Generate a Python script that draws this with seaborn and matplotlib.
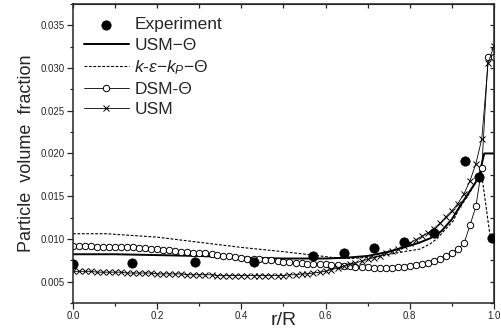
#Imports
import matplotlib
matplotlib.use("Agg")
import matplotlib.pyplot as plt
import seaborn as sns
from matplotlib.ticker import MultipleLocator

#Data
# experiment
r_exp = [0.0, 0.14, 0.29, 0.43, 0.571, 0.643, 0.714, 0.786, 0.857, 0.93, 0.965, 0.995]
c_exp = [0.0071, 0.0072, 0.0073, 0.0073, 0.0080, 0.0084, 0.0089, 0.0096, 0.0107, 0.0191, 0.0172, 0.0101]

# USM-Theta (solid)
r_usm_t = [0.0, 0.1, 0.2, 0.3, 0.4, 0.5, 0.6, 0.65, 0.7, 0.75, 0.8, 0.825, 0.85,
           0.875, 0.9, 0.92, 0.94, 0.955, 0.965, 0.972, 0.977, 0.99, 1.0]
c_usm_t = [0.0082, 0.0082, 0.0081, 0.0080, 0.0078, 0.0077, 0.0077, 0.0078, 0.0080,
           0.0085, 0.0092, 0.0096, 0.0101, 0.0109, 0.0123, 0.0139, 0.0154, 0.0165,
           0.0174, 0.0190, 0.0200, 0.0200, 0.0200]

# k-eps-kp-Theta (dashed)
r_keps = [0.0, 0.08, 0.2, 0.3, 0.4, 0.5, 0.57, 0.62, 0.66, 0.72, 0.785, 0.824,
          0.848, 0.864, 0.903, 0.919, 0.94, 0.955, 0.97, 0.99, 1.0]
c_keps = [0.0106, 0.0106, 0.0102, 0.0096, 0.0090, 0.0085, 0.0081, 0.0078, 0.0077,
          0.0079, 0.0085, 0.0088, 0.0094, 0.0100, 0.0121, 0.0137, 0.0152, 0.0165,
          0.0178, 0.0106, 0.0101]

# grid of the two marked model curves
r_grid = [0.0, 0.014, 0.029, 0.043, 0.057, 0.071, 0.086, 0.1, 0.114, 0.129,
          0.143, 0.157, 0.171, 0.186, 0.2, 0.214, 0.229, 0.243, 0.257, 0.271,
          0.286, 0.3, 0.314, 0.329, 0.343, 0.357, 0.371, 0.386, 0.4, 0.414,
          0.429, 0.443, 0.457, 0.471, 0.486, 0.5, 0.514, 0.529, 0.543, 0.557,
          0.571, 0.586, 0.6, 0.614, 0.629, 0.643, 0.657, 0.671, 0.686, 0.7,
          0.714, 0.729, 0.743, 0.757, 0.771, 0.786, 0.8, 0.814, 0.829, 0.843,
          0.857, 0.871, 0.886, 0.9, 0.914, 0.929, 0.943, 0.957, 0.971, 0.986, 1.0]

# DSM-Theta (open circles)
c_dsm = [0.0092, 0.0092, 0.0092, 0.0092, 0.0091, 0.0091, 0.0091, 0.0091, 0.0090, 0.0090,
         0.0090, 0.0089, 0.0089, 0.0088, 0.0088, 0.0087, 0.0087, 0.0086, 0.0085, 0.0085,
         0.0084, 0.0083, 0.0083, 0.0082, 0.0081, 0.0080, 0.0080, 0.0079, 0.0078, 0.0077,
         0.0077, 0.0076, 0.0075, 0.0075, 0.0074, 0.0073, 0.0073, 0.0072, 0.0072, 0.0071,
         0.0071, 0.0070, 0.0070, 0.0069, 0.0069, 0.0068, 0.0068, 0.0067, 0.0067, 0.0067,
         0.0066, 0.0066, 0.0066, 0.0066, 0.0067, 0.0067, 0.0068, 0.0069, 0.0071, 0.0072,
         0.0074, 0.0077, 0.0080, 0.0084, 0.0088, 0.0095, 0.0116, 0.0138, 0.0183, 0.0313, 0.0313]

# USM (crosses)
c_usm = [0.0062, 0.0062, 0.0062, 0.0062, 0.0061, 0.0061, 0.0061, 0.0061, 0.0061, 0.0060,
         0.0060, 0.0060, 0.0060, 0.0060, 0.0059, 0.0059, 0.0059, 0.0059, 0.0059, 0.0058,
         0.0058, 0.0058, 0.0058, 0.0058, 0.0057, 0.0057, 0.0057, 0.0057, 0.0057, 0.0057,
         0.0057, 0.0057, 0.0057, 0.0057, 0.0057, 0.0057, 0.0058, 0.0058, 0.0059, 0.0059,
         0.0060, 0.0061, 0.0062, 0.0064, 0.0066, 0.0068, 0.0070, 0.0072, 0.0074, 0.0076,
         0.0078, 0.0080, 0.0083, 0.0086, 0.0088, 0.0092, 0.0095, 0.0099, 0.0103, 0.0107,
         0.0112, 0.0118, 0.0126, 0.0133, 0.0141, 0.0153, 0.0168, 0.0188, 0.0217, 0.0306, 0.0326]

#Style
sns.set_style("ticks")
plt.rcParams["font.family"] = ["Liberation Sans", "DejaVu Sans"]
plt.rcParams["mathtext.fontset"] = "custom"
plt.rcParams["mathtext.rm"] = "Liberation Sans"
plt.rcParams["mathtext.it"] = "Liberation Sans:italic"

fig = plt.figure(figsize=(5.01, 3.30), dpi=100)
ax = fig.add_axes([0.1457, 0.082, 0.8403, 0.906])

#Plot
sns.lineplot(x=r_usm_t, y=c_usm_t, ax=ax, color="black", linewidth=1.4,
             label="USM\u2212\u0398")
sns.lineplot(x=r_keps, y=c_keps, ax=ax, color="black", linewidth=0.8,
             linestyle=(0, (2.5, 1.5)),
             label=r"$k$-$\varepsilon$$-$$k_P$$-$" + "\u0398")
sns.lineplot(x=r_grid, y=c_dsm, ax=ax, color="black", linewidth=0.6,
             marker="o", markersize=4.6, markerfacecolor="white",
             markeredgecolor="black", markeredgewidth=0.7, label="DSM-\u0398")
sns.lineplot(x=r_grid, y=c_usm, ax=ax, color="black", linewidth=0.6,
             marker="x", markersize=4.4, markeredgecolor="black",
             markeredgewidth=0.7, label="USM")
sns.scatterplot(x=r_exp, y=c_exp, ax=ax, color="black", s=45,
                edgecolor="black", label="Experiment", zorder=5)

#Axes
ax.set_xlim(0, 1.0)
ax.set_ylim(0.0025, 0.0375)
ax.xaxis.set_major_locator(MultipleLocator(0.2))
ax.xaxis.set_minor_locator(MultipleLocator(0.1))
ax.yaxis.set_major_locator(MultipleLocator(0.005))
ax.yaxis.set_minor_locator(MultipleLocator(0.0025))
ax.xaxis.set_major_formatter(plt.FormatStrFormatter("%.1f"))
ax.yaxis.set_major_formatter(plt.FormatStrFormatter("%.3f"))
for s in ax.spines.values():
    s.set_visible(True)
    s.set_linewidth(1.1)
ax.tick_params(axis="both", which="both", direction="out", labelsize=7,
               width=0.9, top=False, right=False)
ax.tick_params(which="major", length=4, pad=2)
ax.tick_params(which="minor", length=2.5)
# mirrored inward ticks on top/right
sec_x = ax.secondary_xaxis("top")
sec_x.xaxis.set_major_locator(MultipleLocator(0.1))
sec_x.tick_params(direction="in", length=3, width=0.9, labeltop=False)
sec_y = ax.secondary_yaxis("right")
sec_y.yaxis.set_major_locator(MultipleLocator(0.0025))
sec_y.tick_params(direction="in", length=3, width=0.9, labelright=False)

ax.set_ylabel("Particle  volume  fraction", fontsize=13, labelpad=4)
ax.set_xlabel("")
ax.text(0.5, -0.0295, "r/R", transform=ax.get_xaxis_transform(),
        ha="center", va="top", fontsize=14)

#Legend
handles, labels = ax.get_legend_handles_labels()
order = ["Experiment", "USM\u2212\u0398", labels[1], "DSM-\u0398", "USM"]
hd = dict(zip(labels, handles))
ax.legend([hd[k] for k in order], order, loc="upper left", frameon=False,
          fontsize=12.5, handlelength=2.6, handletextpad=0.3,
          labelspacing=0.3, borderaxespad=0.3, borderpad=0.2,
          bbox_to_anchor=(0.005, 0.985))

#Save Plot
fig.savefig("out.png", dpi=100)
